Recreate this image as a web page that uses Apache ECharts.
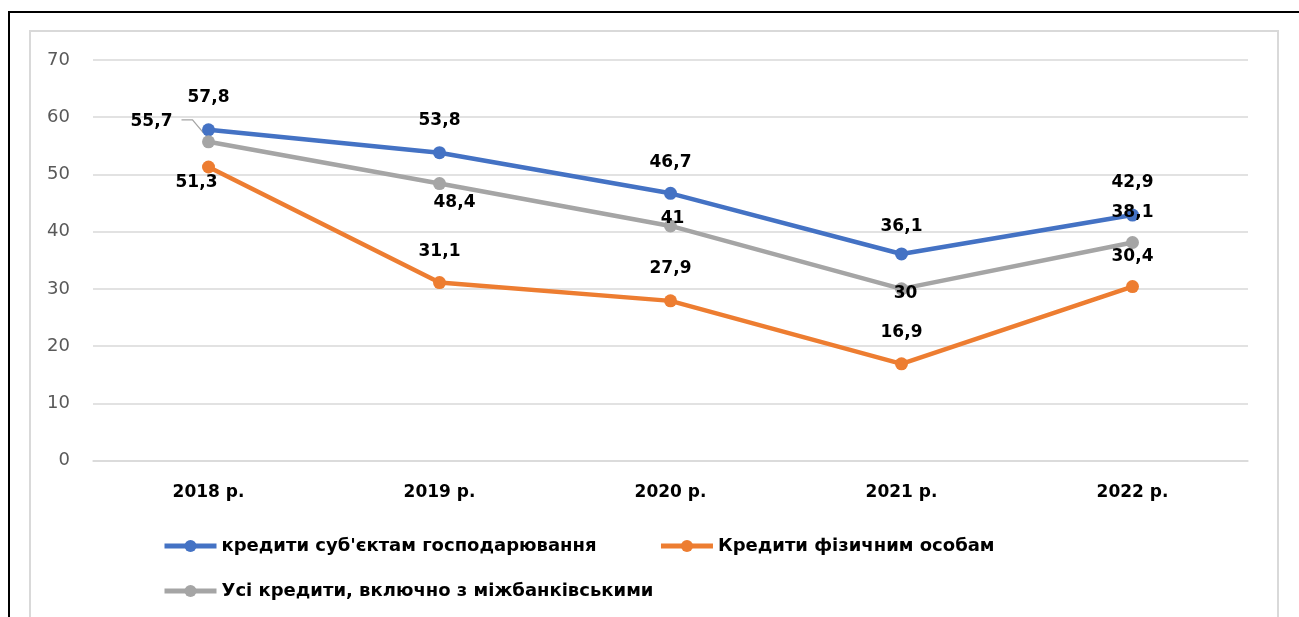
<!DOCTYPE html>
<html>
<head>
<meta charset="utf-8">
<script src="https://cdn.jsdelivr.net/npm/echarts@6/dist/echarts.min.js"></script>
<style>
  html, body { margin: 0; padding: 0; background: #fff; }
  #wrap { position: relative; width: 1299px; height: 617px; overflow: hidden; }
  #outer { position: absolute; left: 8px; top: 11px; width: 1300px; height: 620px; border-left: 2px solid #000; border-top: 2px solid #000; }
  #inner { position: absolute; left: 29px; top: 30px; width: 1246px; height: 620px; border: 2px solid #d9d9d9; }
  #chart { position: absolute; left: 0; top: 0; width: 1299px; height: 617px; }
</style>
</head>
<body>
<div id="wrap">
  <div id="outer"></div>
  <div id="inner"></div>
  <div id="chart"></div>
</div>
<script>
// ---- data ----
const categories = ['2018 р.', '2019 р.', '2020 р.', '2021 р.', '2022 р.'];
const seriesNames = ['кредити суб\'єктам господарювання', 'Кредити фізичним особам', 'Усі кредити, включно з міжбанківськими'];
const businessLoans = [57.8, 53.8, 46.7, 36.1, 42.9];
const householdLoans = [51.3, 31.1, 27.9, 16.9, 30.4];
const allLoans = [55.7, 48.4, 41, 30, 38.1];
const yTicks = [0, 10, 20, 30, 40, 50, 60, 70];

// ---- label placement (styles, not data) ----
const businessOffsets = [[0, -32], [0, -32], [0, -31], [0, -27], [0, -32]];
const householdOffsets = [[-12, 16], [0, -31], [0, -32], [0, -31], [0, -30]];
const allOffsets = [[-57, -20], [15, 19], [2, -7], [4, 5], [0, -30]];

const colors = ['#4472C4', '#ED7D31', '#A5A5A5'];
const fmt = v => String(v).replace('.', ',');
const labelFont = { fontFamily: 'DejaVu Sans', fontWeight: 'bold', fontSize: 17, color: '#000' };

function mkSeries(name, values, color, offsets) {
  return {
    name: name,
    type: 'line',
    data: values.slice(),
    symbol: 'circle',
    symbolSize: 13,
    color: color,
    lineStyle: { width: 4.5, color: color },
    itemStyle: { color: color },
    label: Object.assign({
      show: true,
      position: 'inside',
      formatter: p => fmt(p.value)
    }, labelFont),
    labelLayout: function (p) {
      const o = offsets[p.dataIndex];
      return { dx: o[0], dy: o[1] };
    },
    emphasis: { disabled: true },
    animation: false
  };
}

const chart = echarts.init(document.getElementById('chart'), null, { renderer: 'canvas' });

const legendText = { fontFamily: 'DejaVu Sans', fontWeight: 'bold', fontSize: 18, color: '#000' };

chart.setOption({
  backgroundColor: 'transparent',
  animation: false,
  grid: { left: 93, right: 51, top: 60, bottom: 156.5, containLabel: false },
  legend: [
    {
      data: [seriesNames[0], seriesNames[1]],
      left: 157, top: 532,
      itemWidth: 52, itemHeight: 15, itemGap: 62,
      lineStyle: { width: 5 },
      textStyle: legendText,
      selectedMode: false
    },
    {
      data: [seriesNames[2]],
      left: 157, top: 577,
      itemWidth: 52, itemHeight: 15,
      lineStyle: { width: 5 },
      textStyle: legendText,
      selectedMode: false
    }
  ],
  xAxis: {
    type: 'category',
    data: categories,
    boundaryGap: true,
    axisLine: { show: true, lineStyle: { color: '#d9d9d9', width: 1.5 } },
    axisTick: { show: false },
    axisLabel: { margin: 24, fontFamily: 'DejaVu Sans', fontWeight: 'bold', fontSize: 17, color: '#000' }
  },
  yAxis: {
    type: 'value',
    min: yTicks[0], max: yTicks[yTicks.length - 1], interval: yTicks[1] - yTicks[0],
    axisLine: { show: false },
    axisTick: { show: false },
    splitLine: { lineStyle: { color: '#d9d9d9', width: 1.5 } },
    axisLabel: { margin: 23, fontFamily: 'DejaVu Sans', fontSize: 18, color: '#595959' }
  },
  series: [
    mkSeries(seriesNames[0], businessLoans, colors[0], businessOffsets),
    mkSeries(seriesNames[1], householdLoans, colors[1], householdOffsets),
    mkSeries(seriesNames[2], allLoans, colors[2], allOffsets)
  ]
});

// leader line for the first label of the "all loans" series, derived from the data point
const pt = chart.convertToPixel({ seriesIndex: 2 }, [categories[0], allLoans[0]]);
const lo = allOffsets[0];
const lineY = pt[1] + lo[1] - 2;
const lineX0 = pt[0] + lo[0] + 30;
chart.setOption({
  graphic: [{
    type: 'polyline',
    silent: true,
    z: 1,
    shape: { points: [[lineX0, lineY], [lineX0 + 11, lineY], [pt[0] - 5, pt[1] - 9]] },
    style: { stroke: '#A5A5A5', lineWidth: 1.3, fill: null }
  }]
});
</script>
</body>
</html>
